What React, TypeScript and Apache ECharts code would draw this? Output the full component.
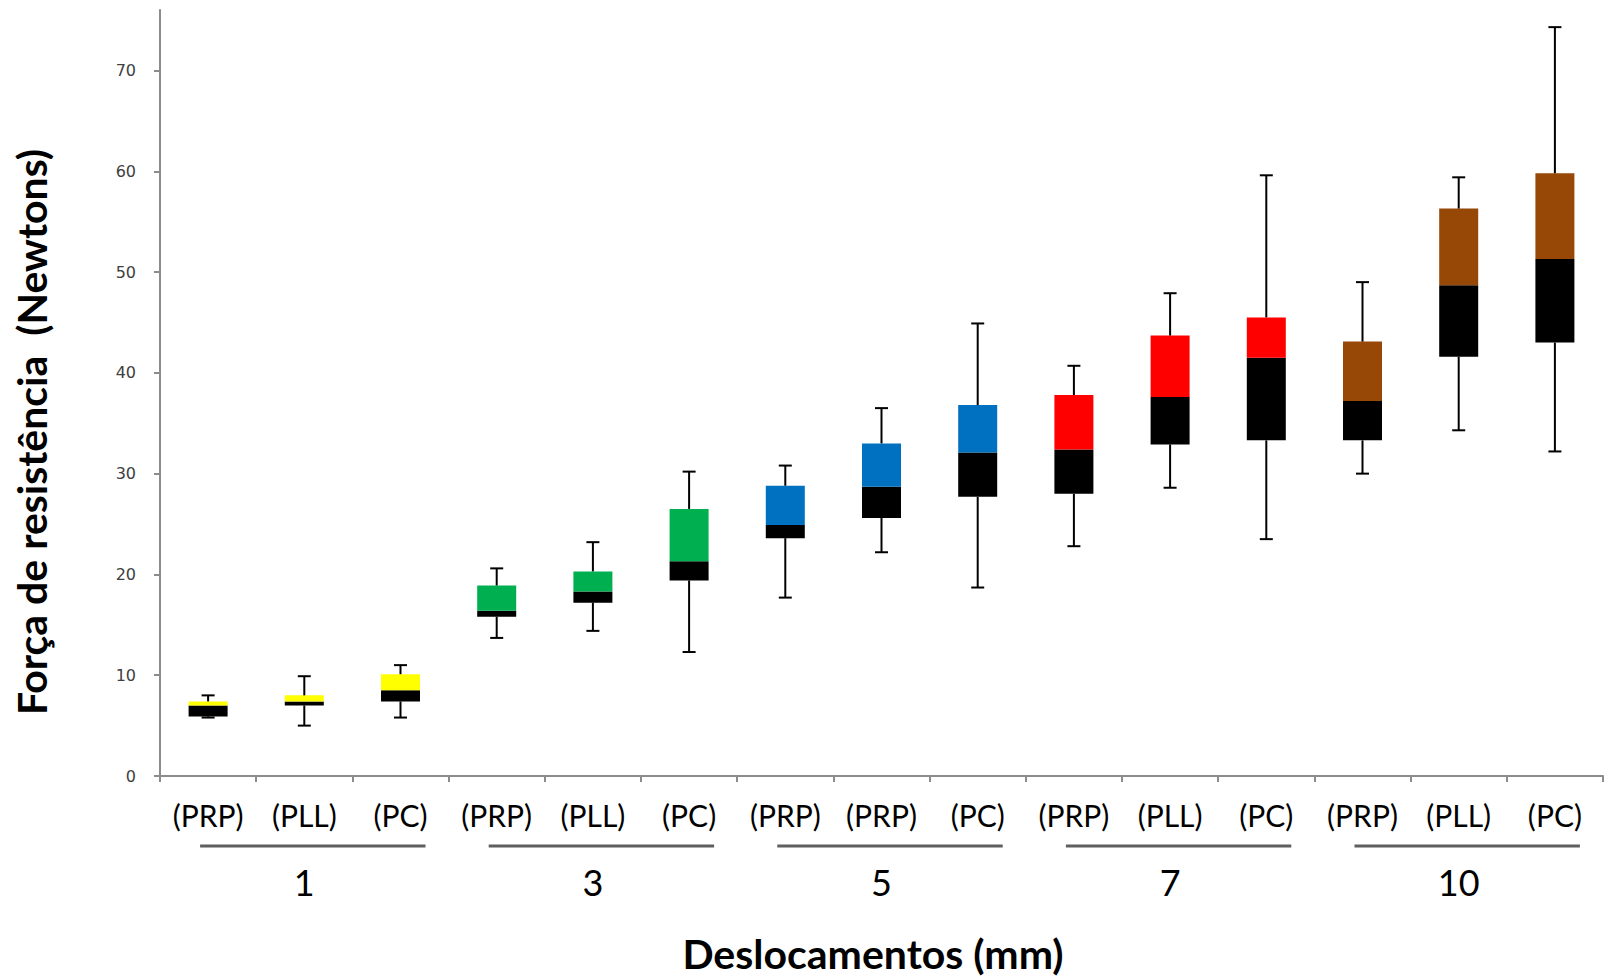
import React, { useEffect, useRef } from "react";
import * as echarts from "echarts";

const groupLabels = ["1", "3", "5", "7", "10"];
const categories = [
  "(PRP)", "(PLL)", "(PC)",
  "(PRP)", "(PLL)", "(PC)",
  "(PRP)", "(PRP)", "(PC)",
  "(PRP)", "(PLL)", "(PC)",
  "(PRP)", "(PLL)", "(PC)",
];
const minValues = [5.8, 5.0, 5.8, 13.7, 14.4, 12.3, 17.7, 22.2, 18.7, 22.8, 28.6, 23.5, 30.0, 34.3, 32.2];
const q1Values = [5.9, 7.0, 7.4, 15.8, 17.2, 19.4, 23.6, 25.6, 27.7, 28.0, 32.9, 33.3, 33.3, 41.6, 43.0];
const medianValues = [7.0, 7.4, 8.5, 16.4, 18.3, 21.3, 24.9, 28.7, 32.1, 32.4, 37.6, 41.5, 37.2, 48.7, 51.3];
const q3Values = [7.4, 8.0, 10.1, 18.9, 20.3, 26.5, 28.8, 33.0, 36.8, 37.8, 43.7, 45.5, 43.1, 56.3, 59.8];
const maxValues = [8.0, 9.9, 11.0, 20.6, 23.2, 30.2, 30.8, 36.5, 44.9, 40.7, 47.9, 59.6, 49.0, 59.4, 74.3];
const groupColors = ["#FFFF00", "#00B050", "#0070C0", "#FF0000", "#974706"];
const yTicks = [0, 10, 20, 30, 40, 50, 60, 70];

const yTitle = "Força de resistência  (Newtons)";
const xTitle = "Deslocamentos (mm)";

export default function App() {
  const ref = useRef<HTMLDivElement>(null);

  useEffect(() => {
    if (!ref.current) return;
    const chart = echarts.init(ref.current, undefined, { renderer: "svg" });
    const perGroup = 3;

    const option: any = {
      animation: false,
      backgroundColor: "#ffffff",
      grid: { left: 160, right: 3, top: 10, bottom: 202, containLabel: false },
      xAxis: [
        {
          type: "category",
          data: categories,
          axisLine: { show: true, lineStyle: { color: "#8c8c8c", width: 2 } },
          axisTick: { show: true, length: 6, lineStyle: { color: "#8c8c8c", width: 2 } },
          axisLabel: {
            interval: 0,
            margin: 24,
            fontFamily: "Lato",
            fontSize: 30,
            color: "#000000",
          },
          splitLine: { show: false },
        },
        {
          type: "category",
          data: groupLabels,
          position: "bottom",
          axisLine: { show: false },
          axisTick: { show: false },
          axisLabel: {
            interval: 0,
            margin: 88,
            fontFamily: "Lato",
            fontSize: 36,
            color: "#000000",
          },
          splitLine: { show: false },
        },
      ],
      yAxis: {
        type: "value",
        min: 0,
        max: 76,
        interval: 10,
        axisLine: { show: true, lineStyle: { color: "#8c8c8c", width: 2 } },
        axisTick: { show: true, length: 6, customValues: yTicks, lineStyle: { color: "#8c8c8c", width: 2 } },
        axisLabel: {
          margin: 24,
          customValues: yTicks,
          fontFamily: "DejaVu Sans",
          fontSize: 16,
          color: "#404040",
        },
        splitLine: { show: false },
      },
      series: [
        {
          type: "bar",
          stack: "box",
          barWidth: 39,
          data: q1Values,
          itemStyle: { color: "transparent" },
          silent: true,
        },
        {
          type: "bar",
          stack: "box",
          barWidth: 39,
          data: medianValues.map((m, i) => +(m - q1Values[i]).toFixed(2)),
          itemStyle: { color: "#000000" },
        },
        {
          type: "bar",
          stack: "box",
          barWidth: 39,
          data: q3Values.map((q, i) => ({
            value: +(q - medianValues[i]).toFixed(2),
            itemStyle: { color: groupColors[Math.floor(i / perGroup)] },
          })),
        },
        {
          type: "custom",
          z: 5,
          data: categories.map((_, i) => [i, minValues[i], q1Values[i], q3Values[i], maxValues[i]]),
          encode: { x: 0, y: [1, 2, 3, 4] },
          renderItem: (params: any, api: any) => {
            const idx = api.value(0);
            const lo = api.coord([idx, api.value(1)]);
            const q1 = api.coord([idx, api.value(2)]);
            const q3 = api.coord([idx, api.value(3)]);
            const hi = api.coord([idx, api.value(4)]);
            const cap = 6.5;
            const style = { stroke: "#000000", lineWidth: 2 };
            return {
              type: "group",
              children: [
                { type: "line", shape: { x1: lo[0], y1: lo[1], x2: q1[0], y2: q1[1] }, style },
                { type: "line", shape: { x1: q3[0], y1: q3[1], x2: hi[0], y2: hi[1] }, style },
                { type: "line", shape: { x1: lo[0] - cap, y1: lo[1], x2: lo[0] + cap, y2: lo[1] }, style },
                { type: "line", shape: { x1: hi[0] - cap, y1: hi[1], x2: hi[0] + cap, y2: hi[1] }, style },
              ],
            };
          },
        },
      ],
    };

    chart.setOption(option);

    const y0 = chart.convertToPixel({ yAxisIndex: 0 }, 0) as number;
    const graphics: any[] = [];
    groupLabels.forEach((_, g) => {
      const xa = chart.convertToPixel({ xAxisIndex: 0 }, g * perGroup) as number;
      const xb = chart.convertToPixel({ xAxisIndex: 0 }, g * perGroup + perGroup - 1) as number;
      graphics.push({
        type: "line",
        shape: { x1: xa - 8, y1: y0 + 70, x2: xb + 25, y2: y0 + 70 },
        style: { stroke: "#5f5f5f", lineWidth: 3 },
      });
    });
    graphics.push({
      type: "text",
      x: 31,
      y: 432,
      rotation: Math.PI / 2,
      style: {
        text: yTitle,
        font: "bold 41px Lato",
        fill: "#000000",
        textAlign: "center",
        textVerticalAlign: "middle",
      },
    });
    graphics.push({
      type: "text",
      x: 873,
      y: 953,
      style: {
        text: xTitle,
        font: "bold 41px Lato",
        fill: "#000000",
        textAlign: "center",
        textVerticalAlign: "middle",
      },
    });
    chart.setOption({ graphic: graphics });

    return () => chart.dispose();
  }, []);

  return (
    <div
      ref={ref}
      style={{ position: "fixed", left: 0, top: 0, width: 1606, height: 978 }}
    />
  );
}
